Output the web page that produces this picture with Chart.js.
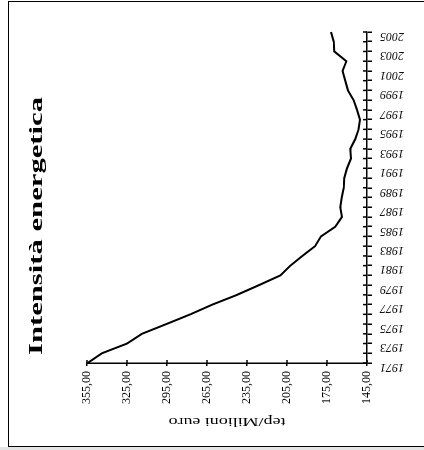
<!DOCTYPE html>
<html><head><meta charset="utf-8">
<script src="https://cdn.jsdelivr.net/npm/chart.js@4"></script>
<style>
html,body{margin:0;padding:0;background:#fff;overflow:hidden;width:424px;height:450px;}
#wrap{position:absolute;left:0;top:0;width:450px;height:424px;transform-origin:0 0;transform:translate(0px,450px) rotate(-90deg);}
#frame{position:absolute;left:8px;top:1px;width:440px;height:446px;border:1.5px solid #000;box-sizing:border-box;pointer-events:none;}
#strip{position:absolute;left:0;top:447px;width:424px;height:3px;background:#e4e4e4;}
</style></head><body>
<div id="wrap"><canvas id="c" width="450" height="424"></canvas></div>
<div id="frame"></div>
<div id="strip"></div>
<script>
const years = ['1971','1972','1973','1974','1975','1976','1977','1978','1979','1980','1981','1982','1983','1984','1985','1986','1987','1988','1989','1990','1991','1992','1993','1994','1995','1996','1997','1998','1999','2000','2001','2002','2003','2004','2005'];
const intensity = [354.5,343.8,325.0,313.8,295.5,277.5,261.0,242.5,226.0,210.0,202.5,193.5,184.0,179.5,168.8,163.8,165.0,164.0,162.5,162.0,160.0,157.0,157.5,153.8,151.3,150.3,152.5,155.0,159.3,161.3,163.3,160.5,169.5,170.0,172.0];
const yearTickLabels = ['1971','1973','1975','1977','1979','1981','1983','1985','1987','1989','1991','1993','1995','1997','1999','2001','2003','2005'];
const valueTicks = [145,175,205,235,265,295,325,355];
const chartTitle = 'Intensità energetica';
const axisTitle = 'tep/Milioni euro';

const decor = {
  id: 'decor',
  afterDraw(chart) {
    const ctx = chart.ctx, a = chart.chartArea;
    const xs = chart.scales.x, ys = chart.scales.y;
    ctx.save();
    ctx.strokeStyle = '#000';
    ctx.lineWidth = 1.5;
    ctx.beginPath();
    xs.ticks.forEach((t, i) => { const p = xs.getPixelForTick(i); ctx.moveTo(p, a.bottom); ctx.lineTo(p, a.bottom - 4); });
    ys.ticks.forEach((t, i) => { const p = ys.getPixelForTick(i); ctx.moveTo(a.left, p); ctx.lineTo(a.left + 3, p); });
    ctx.stroke();
    ctx.fillStyle = '#000';
    ctx.textAlign = 'center';
    ctx.textBaseline = 'middle';
    ctx.font = 'bold 19px "Liberation Serif"';
    let w = ctx.measureText(chartTitle).width;
    ctx.save(); ctx.translate(224, 37); ctx.scale(258 / w, 1); ctx.fillText(chartTitle, 0, 0); ctx.restore();
    ctx.font = '13px "Liberation Serif"';
    w = ctx.measureText(axisTitle).width;
    ctx.save(); ctx.translate(29, (a.top + a.bottom) / 2); ctx.rotate(-Math.PI / 2); ctx.scale(117 / w, 1); ctx.fillText(axisTitle, 0, 0); ctx.restore();
    ctx.restore();
  }
};

new Chart(document.getElementById('c'), {
  type: 'line',
  data: {
    labels: years,
    datasets: [{
      data: intensity,
      borderColor: '#000',
      borderWidth: 2,
      pointRadius: 0,
      tension: 0,
      fill: false
    }]
  },
  options: {
    responsive: false,
    animation: false,
    devicePixelRatio: 1,
    layout: { padding: { top: 87, right: 32, left: 0, bottom: 0 } },
    plugins: { legend: { display: false }, title: { display: false }, tooltip: { enabled: false } },
    scales: {
      x: {
        type: 'category',
        offset: false,
        grid: { drawOnChartArea: false, drawTicks: true, tickLength: 5, color: '#000', lineWidth: 1.5 },
        border: { color: '#000', width: 1.5 },
        ticks: {
          autoSkip: false,
          minRotation: 90,
          maxRotation: 90,
          padding: 8,
          labelOffset: -4,
          color: '#000',
          font: { family: '"Liberation Serif"', size: 12, style: 'italic' },
          callback: function (val) { const l = this.getLabelForValue(val); return yearTickLabels.includes(l) ? l : ''; }
        },
        afterFit: (s) => { s.height = 57; }
      },
      y: {
        min: 145,
        max: 355,
        grid: { drawOnChartArea: false, drawTicks: true, tickLength: 3, color: '#000', lineWidth: 1.5 },
        border: { color: '#000', width: 1.5 },
        afterBuildTicks: (s) => { s.ticks = valueTicks.map(v => ({ value: v })); },
        ticks: {
          padding: 5,
          color: '#000',
          font: { family: '"Liberation Serif"', size: 12 },
          callback: (v) => Number(v).toFixed(2).replace('.', ',')
        },
        afterFit: (s) => { s.width = 87; }
      }
    }
  },
  plugins: [decor]
});
</script>
</body></html>
